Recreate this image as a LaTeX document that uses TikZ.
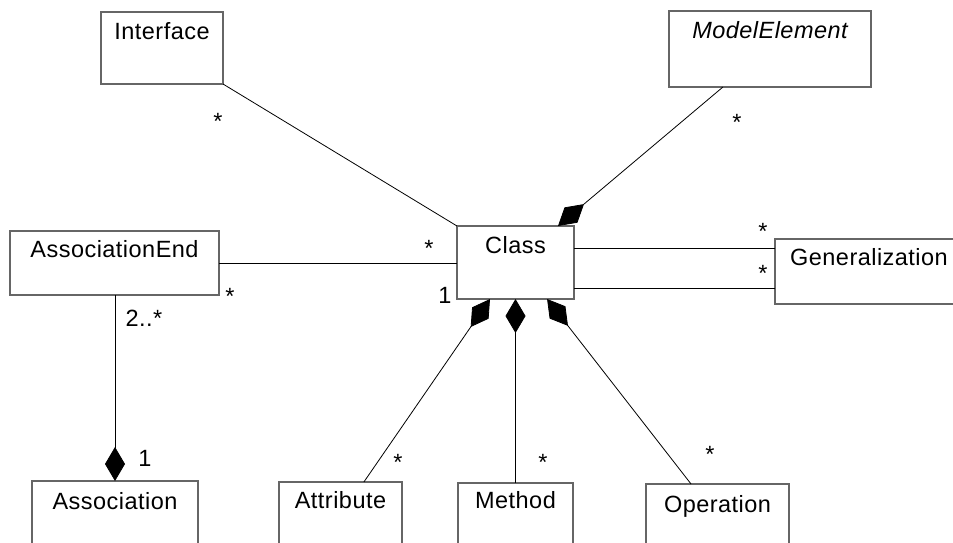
\documentclass[tikz,border=0pt]{standalone}
\usepackage{fontspec}
\setmainfont{Liberation Sans}[LetterSpace=2]
\usetikzlibrary{arrows.meta,calc}

\tikzset{
  x=1pt, y=-1pt,
  umlbox/.style={draw=black!60, line width=1.3pt, inner sep=0pt, outer sep=0pt,
                 anchor=base, font=\fontsize{23.5}{28}\selectfont},
  assoc/.style={draw=black, line width=0.8pt},
  comp/.style={assoc, -{Diamond[length=34pt,width=20pt]}},
  mult/.style={inner sep=0pt, anchor=base, font=\fontsize{23.5}{28}\selectfont},
}

\begin{document}
\begin{tikzpicture}
  \useasboundingbox (0,0) rectangle (953,542);
  \fill[white] (0,0) rectangle (953,542);
  \clip (0,0) rectangle (953,542);

  % classes
  \node[umlbox, minimum width=122pt, text height=27.3pt, text depth=44.7pt] (iface) at (162,39.3) {Interface};
  \node[umlbox, minimum width=202pt, text height=27.3pt, text depth=48.7pt] (melem) at (770,38.3) {\itshape ModelElement};
  \node[umlbox, minimum width=209pt, text height=26.3pt, text depth=37.7pt] (aend) at (114.5,257.3) {AssociationEnd};
  \node[umlbox, minimum width=117pt, text height=27.3pt, text depth=45.7pt] (cls) at (515.5,253.3) {Class};
  \node[umlbox, minimum width=188pt, text height=26pt, text depth=39pt] (gen) at (869,265) {Generalization};
  \node[umlbox, minimum width=166pt, text height=28.3pt, text depth=60pt] (asc) at (115,509.3) {Association};
  \node[umlbox, minimum width=123pt, text height=26.3pt, text depth=60pt] (attr) at (340.5,508.3) {Attribute};
  \node[umlbox, minimum width=115pt, text height=25.3pt, text depth=60pt] (meth) at (515.5,508.3) {Method};
  \node[umlbox, minimum width=143pt, text height=28pt, text depth=60pt] (oper) at (717.5,512) {Operation};

  % attachment points on the right side of Class
  \coordinate (g1) at ($(cls.north east)!0.3!(cls.south east)$);
  \coordinate (g2) at ($(cls.north east)!0.85!(cls.south east)$);

  % associations
  \draw[assoc] (iface.south east) -- (cls.north west);
  \draw[assoc] (aend.east) -- (aend.east -| cls.west);
  \draw[assoc] (g1) -- (g1 -| gen.west);
  \draw[assoc] (g2) -- (g2 -| gen.west);

  % compositions
  \draw[comp] ($(melem.south west)!0.267!(melem.south east)$) -- ($(cls.north west)!0.863!(cls.north east)$);
  \draw[comp] (aend.south -| asc.north) -- (asc.north);
  \draw[comp] ($(attr.north west)!0.69!(attr.north east)$) -- ($(cls.south west)!0.282!(cls.south east)$);
  \draw[comp] (meth.north) -- (cls.south);
  \draw[comp] ($(oper.north west)!0.315!(oper.north east)$) -- ($(cls.south west)!0.77!(cls.south east)$);

  % multiplicities
  \node[mult] (mIface) at (218,129.6) {*};
  \node[mult] (mMelem) at (737,130.6) {*};
  \node[mult] (mClsA) at (429,256.6) {*};
  \node[mult] (mAend) at (230,304.6) {*};
  \node[mult] (mGen1) at (763,239.6) {*};
  \node[mult] (mGen2) at (763,281.6) {*};
  \node[mult] (mAttr) at (398,470.6) {*};
  \node[mult] (mMeth) at (543,470.6) {*};
  \node[mult] (mOper) at (710,462.6) {*};
  \node[mult] (mCls1) at (445,303.4) {1};
  \node[mult] (mAend2) at (144,326.4) {2..*};
  \node[mult] (mAsc1) at (145,466.4) {1};
\end{tikzpicture}
\end{document}
